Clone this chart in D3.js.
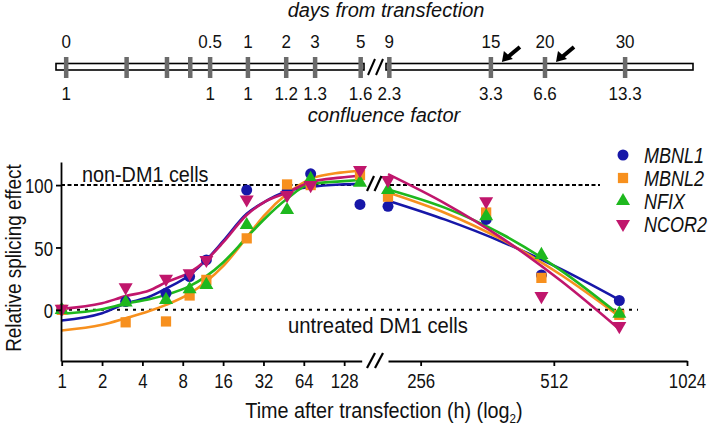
<!DOCTYPE html>
<html><head><meta charset="utf-8">
<script src="https://cdn.jsdelivr.net/npm/d3@7/dist/d3.min.js"></script>
<style>
body{margin:0;background:#fff;}
svg{display:block;}
text{font-family:"Liberation Sans",Arial,sans-serif;fill:#111;}
</style>
</head><body>
<svg id="c" width="709" height="429"></svg>
<script>
// ---------- data ----------
const seriesNames  = ["MBNL1","MBNL2","NFIX","NCOR2"];
const seriesColors = ["#1717a8","#f7901e","#1eb81e","#c0166c"];

const leftHours  = [1,3,6,9,12,24,48,72,168];
const rightHours = [216,360,480,720];

const mbnl1Left  = [0, 6.6, 13.3, 26.7, 40, 96, 95, 109, 84.5];
const mbnl2Left  = [0, -10, -9.3, 11.5, 24, 57.3, 100.5, 100, 108];
const nfixLeft   = [0, 6, 8, 16.5, 20, 68, 80, 105, 102];
const ncor2Left  = [0.8, 18, 24.8, 29.3, 40, 88.5, 92, 100, 112];

const mbnl1Right = [83, 72.5, 28, 7.5];
const mbnl2Right = [90.7, 78, 25.6, -4];
const nfixRight  = [96, 75, 44, -3];
const ncor2Right = [104, 87, 11, -13];

// fitted curves
const fitLeftHours  = [1, 2, 3, 4.5, 6, 9, 12, 16, 24, 32, 48, 72, 120, 168];
const mbnl1FitLeft  = [-8.5, -2.7, 5, 10.5, 17, 28, 40, 55, 77, 86, 95, 98.5, 100.5, 101];
const mbnl2FitLeft  = [-16.5, -12, -6.7, -1, 4, 13, 22.7, 35, 58, 75, 93, 105, 110, 111.5];
const nfixFitLeft   = [-3.2, 0.5, 5, 8.5, 12, 19, 27, 38, 58, 72, 89, 101, 103, 104];
const ncor2FitLeft  = [0.8, 5.3, 11, 15.5, 22, 30, 40, 54, 76, 86, 94, 102.5, 106, 107.5];

const fitRightHours = [216, 291, 394, 532, 720];
const mbnl1FitRight = [87.5, 72.3, 54, 32.6, 8];
const mbnl2FitRight = [94, 77.6, 55.6, 27.9, -5.3];
const nfixFitRight  = [96.5, 81.7, 60, 31.4, -4];
const ncor2FitRight = [108.8, 85.2, 56.7, 23.1, -15.5];

const leftTicks  = [1,2,4,8,16,32,64,128];
const rightTicks = [256,512,1024];
const yTicks     = [0,50,100];

// timeline (tick positions read as hours on the lower axis)
const tlHours      = [1.08, 3.05, 6.1, 9.1, 12.8, 24.5, 47.3, 77.7, 170, 217.5, 369, 489, 742];
const tlDays       = ["0","","","","0.5","1","2","3","5","9","15","20","30"];
const tlConfluence = ["1","","","","1","1","1.2","1.3","1.6","2.3","3.3","6.6","13.3"];
const arrowHours   = [369, 489];

const leftVals  = [mbnl1Left, mbnl2Left, nfixLeft, ncor2Left];
const rightVals = [mbnl1Right, mbnl2Right, nfixRight, ncor2Right];
const fitLeft   = [mbnl1FitLeft, mbnl2FitLeft, nfixFitLeft, ncor2FitLeft];
const fitRight  = [mbnl1FitRight, mbnl2FitRight, nfixFitRight, ncor2FitRight];

// ---------- scales ----------
const svg = d3.select("#c");
const xL = d3.scaleLog().base(2).domain([1,173]).range([61.7,361.7]);
const xR = d3.scaleLog().base(2).domain([216,1024]).range([388,687]);
const xAt = h => h < 200 ? xL(h) : xR(h);
const y = d3.scaleLinear().domain([-41,118.5]).range([361,162]);

function txt(parent, x, yy, str, size, sx, anchor, italic){
  return parent.append("text")
    .attr("transform", `translate(${x},${yy}) scale(${sx},1)`)
    .attr("text-anchor", anchor || "start")
    .attr("font-size", size)
    .attr("font-style", italic ? "italic" : "normal")
    .text(str);
}

// ---------- reference lines ----------
const ref = svg.append("g").attr("stroke","#000").attr("stroke-width",2).attr("fill","none");
ref.append("line").attr("x1",61).attr("x2",xL(173)).attr("y1",y(100)).attr("y2",y(100)).attr("stroke-dasharray","4,2.5");
ref.append("line").attr("x1",390).attr("x2",600).attr("y1",y(100)).attr("y2",y(100)).attr("stroke-dasharray","4,2.5");
ref.append("line").attr("x1",61).attr("x2",638).attr("y1",y(0)).attr("y2",y(0)).attr("stroke-dasharray","3,5");

// ---------- fitted curves ----------
const line = d3.line().x(d=>xAt(d[0])).y(d=>y(d[1])).curve(d3.curveMonotoneX);
const curves = svg.append("g").attr("fill","none").attr("stroke-width",2.6);
seriesNames.forEach((n,i)=>{
  curves.append("path").attr("stroke",seriesColors[i])
    .attr("d", line(fitLeftHours.map((h,j)=>[h,fitLeft[i][j]])));
  curves.append("path").attr("stroke",seriesColors[i])
    .attr("d", line(fitRightHours.map((h,j)=>[h,fitRight[i][j]])));
});

// ---------- markers ----------
const symTypes = [d3.symbolCircle, d3.symbolSquare, d3.symbolTriangle, d3.symbolTriangle];
const symSizes = [95, 105, 85, 85];
const symRot   = [0,0,0,180];
function marker(g, i, cx, cy){
  g.append("path")
    .attr("d", d3.symbol().type(symTypes[i]).size(symSizes[i])())
    .attr("transform", `translate(${cx},${cy}) rotate(${symRot[i]})`)
    .attr("fill", seriesColors[i]);
}
const mk = svg.append("g");
seriesNames.forEach((n,i)=>{
  leftHours.forEach((h,j)=>marker(mk,i,xL(h),y(leftVals[i][j])));
  rightHours.forEach((h,j)=>marker(mk,i,xR(h),y(rightVals[i][j])));
});

// ---------- axes ----------
function styleAxis(g, sx){
  g.select(".domain").attr("stroke","#000").attr("stroke-width",1.8);
  g.selectAll(".tick line").attr("stroke","#000").attr("stroke-width",1.8);
  g.selectAll(".tick text").attr("font-size",21).attr("fill","#111")
    .attr("font-family",'"Liberation Sans",Arial,sans-serif')
    .attr("transform",`scale(${sx},1)`);
}
const gxL = svg.append("g").attr("transform","translate(0,361)")
  .call(d3.axisBottom(xL).tickValues(leftTicks).tickFormat(d3.format("d")).tickSizeInner(5).tickSizeOuter(0).tickPadding(7));
styleAxis(gxL, 0.8);
const gxR = svg.append("g").attr("transform","translate(0,361)")
  .call(d3.axisBottom(xR).tickValues(rightTicks).tickFormat(d3.format("d")).tickSizeInner(5).tickSizeOuter(0).tickPadding(7));
styleAxis(gxR, 0.8);
const gy = svg.append("g").attr("transform","translate(61,0)")
  .call(d3.axisLeft(y).tickValues(yTicks).tickSizeInner(5).tickSizeOuter(0).tickPadding(5));
styleAxis(gy, 0.8);
gy.selectAll(".tick text").attr("dy","0.36em");

// break marks
const brk = svg.append("g").attr("stroke","#000").attr("stroke-width",2.2);
[[367,368,375,353],[375,368,383,353],[367,191,374,176],[374.5,191,381.5,176]]
  .forEach(d=>brk.append("line").attr("x1",d[0]).attr("y1",d[1]).attr("x2",d[2]).attr("y2",d[3]));

// ---------- annotations ----------
txt(svg, 82, 181.5, "non-DM1 cells", 22.5, 0.88);
txt(svg, 288, 333, "untreated DM1 cells", 22.5, 0.9);

// axis titles
const xt = txt(svg, 384, 418, "", 22, 0.9, "middle");
xt.append("tspan").text("Time after transfection (h) (log");
xt.append("tspan").attr("font-size",13).attr("dy",5).text("2");
xt.append("tspan").attr("dy",-5).text(")");
svg.append("text").attr("transform","translate(20.5,258) rotate(-90) scale(0.84,1)")
  .attr("text-anchor","middle").attr("font-size",22.5).text("Relative splicing effect");

// ---------- legend ----------
const lg = svg.append("g");
seriesNames.forEach((n,i)=>{
  const ly = 155 + i*23;
  marker(lg, i, 623, ly);
  txt(lg, 644, ly+7.5, n, 22, 0.82, "start", true);
});

// ---------- timeline ----------
const tl = svg.append("g");
const tx = h => xAt(h);
tl.append("rect").attr("x",56).attr("y",63.5).attr("width",308).attr("height",6.5)
  .attr("fill","#fff").attr("stroke","#000").attr("stroke-width",1.6);
tl.append("rect").attr("x",386).attr("y",63.5).attr("width",307).attr("height",6.5)
  .attr("fill","#fff").attr("stroke","#000").attr("stroke-width",1.6);
tlHours.forEach((h,i)=>{
  tl.append("line").attr("x1",tx(h)).attr("x2",tx(h)).attr("y1",57).attr("y2",78)
    .attr("stroke","#6b6b6b").attr("stroke-width",4.5);
  if (tlDays[i]) txt(tl, tx(h), 48, tlDays[i], 18.5, 0.92, "middle");
  if (tlConfluence[i]) txt(tl, tx(h), 100, tlConfluence[i], 18.5, 0.92, "middle");
});
const tb = tl.append("g").attr("stroke","#000").attr("stroke-width",2);
[[368,75,375,59],[376,75,383,59]].forEach(d=>tb.append("line").attr("x1",d[0]).attr("y1",d[1]).attr("x2",d[2]).attr("y2",d[3]));
arrowHours.forEach(h=>{
  const hx = tx(h) + 11, hy = 62;
  tl.append("line").attr("x1",hx+18).attr("y1",hy-15).attr("x2",hx+6).attr("y2",hy-5)
    .attr("stroke","#000").attr("stroke-width",4);
  tl.append("path").attr("d",`M${hx},${hy} L${hx+2},${hy-11} L${hx+11},${hy-3} Z`).attr("fill","#000");
});
txt(tl, 386, 17, "days from transfection", 20, 1, "middle", true);
txt(tl, 384, 122, "confluence factor", 20, 1, "middle", true);
</script>
</body></html>
